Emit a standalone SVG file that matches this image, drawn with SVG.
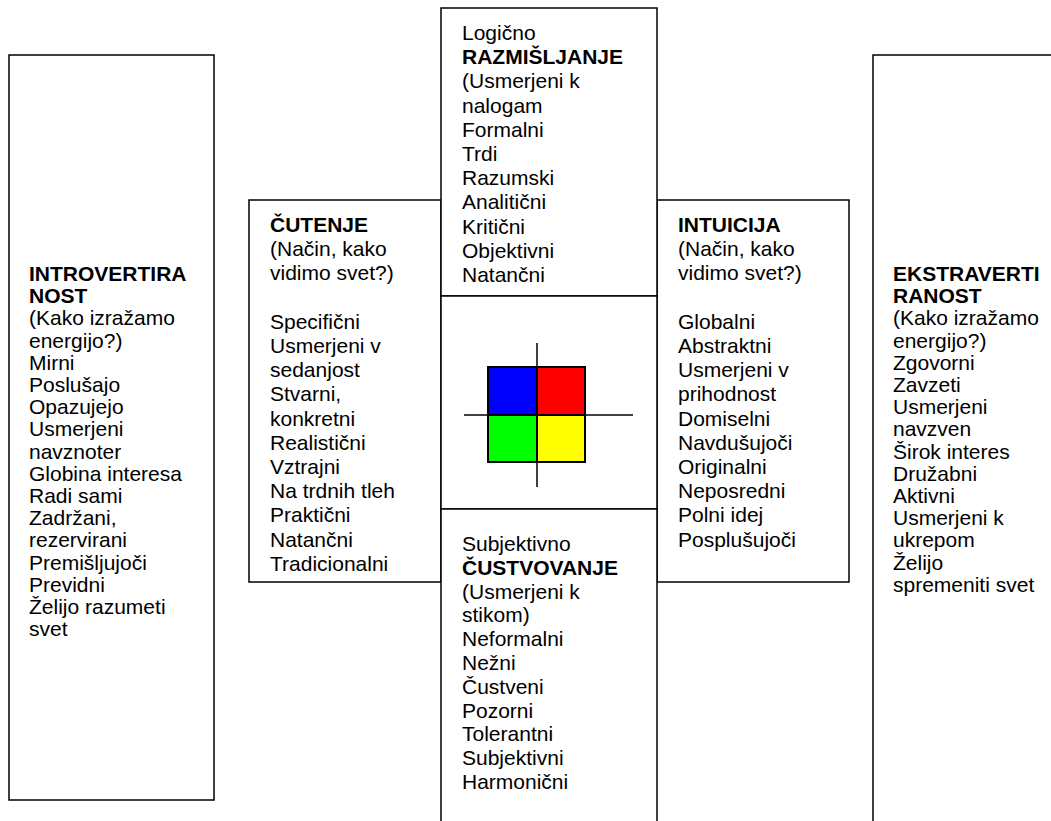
<svg xmlns="http://www.w3.org/2000/svg" width="1051" height="821" viewBox="0 0 1051 821">
  <style>
    .frame { fill: #ffffff; stroke: #000000; stroke-width: 1.5; }
    .edge { fill: none; stroke: #000000; stroke-width: 1.5; }
    .txt { font-family: "Liberation Sans", Arial, sans-serif; font-size: 21px; fill: #000000; }
    .b { font-weight: bold; }
    .cell { stroke: #000000; stroke-width: 2; }
    .axis { stroke: #000000; stroke-width: 1.5; }
  </style>
  <rect width="1051" height="821" fill="#ffffff"/>

  <!-- Introvertiranost -->
  <g id="introvertiranost">
    <rect class="frame" x="9" y="55" width="205" height="745"/>
    <text class="txt" x="29" y="281">
      <tspan x="29" class="b">INTROVERTIRA</tspan>
      <tspan x="29" dy="22.2" class="b">NOST</tspan>
      <tspan x="29" dy="22.2">(Kako izražamo</tspan>
      <tspan x="29" dy="22.2">energijo?)</tspan>
      <tspan x="29" dy="22.2">Mirni</tspan>
      <tspan x="29" dy="22.2">Poslušajo</tspan>
      <tspan x="29" dy="22.2">Opazujejo</tspan>
      <tspan x="29" dy="22.2">Usmerjeni</tspan>
      <tspan x="29" dy="22.2">navznoter</tspan>
      <tspan x="29" dy="22.2">Globina interesa</tspan>
      <tspan x="29" dy="22.2">Radi sami</tspan>
      <tspan x="29" dy="22.2">Zadržani,</tspan>
      <tspan x="29" dy="22.2">rezervirani</tspan>
      <tspan x="29" dy="22.2">Premišljujoči</tspan>
      <tspan x="29" dy="22.2">Previdni</tspan>
      <tspan x="29" dy="22.2">Želijo razumeti</tspan>
      <tspan x="29" dy="22.2">svet</tspan>
    </text>
  </g>

  <!-- Čutenje -->
  <g id="cutenje">
    <rect class="frame" x="249" y="200" width="192" height="382"/>
    <text class="txt" x="270" y="232">
      <tspan x="270" class="b">ČUTENJE</tspan>
      <tspan x="270" dy="24.2">(Način, kako</tspan>
      <tspan x="270" dy="24.2">vidimo svet?)</tspan>
      <tspan x="270" dy="48.4">Specifični</tspan>
      <tspan x="270" dy="24.2">Usmerjeni v</tspan>
      <tspan x="270" dy="24.2">sedanjost</tspan>
      <tspan x="270" dy="24.2">Stvarni,</tspan>
      <tspan x="270" dy="24.2">konkretni</tspan>
      <tspan x="270" dy="24.2">Realistični</tspan>
      <tspan x="270" dy="24.2">Vztrajni</tspan>
      <tspan x="270" dy="24.2">Na trdnih tleh</tspan>
      <tspan x="270" dy="24.2">Praktični</tspan>
      <tspan x="270" dy="24.2">Natančni</tspan>
      <tspan x="270" dy="24.2">Tradicionalni</tspan>
    </text>
  </g>

  <!-- Intuicija -->
  <g id="intuicija">
    <rect class="frame" x="657" y="200" width="192" height="382"/>
    <text class="txt" x="678" y="232">
      <tspan x="678" class="b">INTUICIJA</tspan>
      <tspan x="678" dy="24.2">(Način, kako</tspan>
      <tspan x="678" dy="24.2">vidimo svet?)</tspan>
      <tspan x="678" dy="48.4">Globalni</tspan>
      <tspan x="678" dy="24.2">Abstraktni</tspan>
      <tspan x="678" dy="24.2">Usmerjeni v</tspan>
      <tspan x="678" dy="24.2">prihodnost</tspan>
      <tspan x="678" dy="24.2">Domiselni</tspan>
      <tspan x="678" dy="24.2">Navdušujoči</tspan>
      <tspan x="678" dy="24.2">Originalni</tspan>
      <tspan x="678" dy="24.2">Neposredni</tspan>
      <tspan x="678" dy="24.2">Polni idej</tspan>
      <tspan x="678" dy="24.2">Posplušujoči</tspan>
    </text>
  </g>

  <!-- Razmišljanje (top of the centre column) -->
  <g id="razmisljanje">
    <rect class="frame" x="441" y="8" width="216" height="288"/>
    <text class="txt" x="462" y="40">
      <tspan x="462">Logično</tspan>
      <tspan x="462" dy="24.2" class="b">RAZMIŠLJANJE</tspan>
      <tspan x="462" dy="24.2">(Usmerjeni k</tspan>
      <tspan x="462" dy="24.2">nalogam</tspan>
      <tspan x="462" dy="24.2">Formalni</tspan>
      <tspan x="462" dy="24.2">Trdi</tspan>
      <tspan x="462" dy="24.2">Razumski</tspan>
      <tspan x="462" dy="24.2">Analitični</tspan>
      <tspan x="462" dy="24.2">Kritični</tspan>
      <tspan x="462" dy="24.2">Objektivni</tspan>
      <tspan x="462" dy="24.2">Natančni</tspan>
    </text>
  </g>

  <!-- Colour quadrant symbol (middle of the centre column) -->
  <g id="simbol">
    <rect class="frame" x="441" y="296" width="216" height="213"/>
    <rect class="cell" x="488" y="367" width="49" height="48" fill="#0000ff"/>
    <rect class="cell" x="537" y="367" width="48" height="48" fill="#ff0000"/>
    <rect class="cell" x="488" y="415" width="49" height="47" fill="#00ff00"/>
    <rect class="cell" x="537" y="415" width="48" height="47" fill="#ffff00"/>
    <line class="axis" x1="464" y1="415" x2="633" y2="415"/>
    <line class="axis" x1="537" y1="343" x2="537" y2="487"/>
  </g>

  <!-- Čustvovanje (bottom of the centre column) -->
  <g id="custvovanje">
    <rect class="frame" x="441" y="509" width="216" height="330"/>
    <text class="txt" x="462" y="551">
      <tspan x="462">Subjektivno</tspan>
      <tspan x="462" dy="23.8" class="b">ČUSTVOVANJE</tspan>
      <tspan x="462" dy="23.8">(Usmerjeni k</tspan>
      <tspan x="462" dy="23.8">stikom)</tspan>
      <tspan x="462" dy="23.8">Neformalni</tspan>
      <tspan x="462" dy="23.8">Nežni</tspan>
      <tspan x="462" dy="23.8">Čustveni</tspan>
      <tspan x="462" dy="23.8">Pozorni</tspan>
      <tspan x="462" dy="23.8">Tolerantni</tspan>
      <tspan x="462" dy="23.8">Subjektivni</tspan>
      <tspan x="462" dy="23.8">Harmonični</tspan>
    </text>
  </g>

  <!-- Ekstravertiranost -->
  <g id="ekstravertiranost">
    <rect class="frame" x="873" y="55" width="200" height="790"/>
    <text class="txt" x="893" y="281">
      <tspan x="893" class="b">EKSTRAVERTI</tspan>
      <tspan x="893" dy="22.2" class="b">RANOST</tspan>
      <tspan x="893" dy="22.2">(Kako izražamo</tspan>
      <tspan x="893" dy="22.2">energijo?)</tspan>
      <tspan x="893" dy="22.2">Zgovorni</tspan>
      <tspan x="893" dy="22.2">Zavzeti</tspan>
      <tspan x="893" dy="22.2">Usmerjeni</tspan>
      <tspan x="893" dy="22.2">navzven</tspan>
      <tspan x="893" dy="22.2">Širok interes</tspan>
      <tspan x="893" dy="22.2">Družabni</tspan>
      <tspan x="893" dy="22.2">Aktivni</tspan>
      <tspan x="893" dy="22.2">Usmerjeni k</tspan>
      <tspan x="893" dy="22.2">ukrepom</tspan>
      <tspan x="893" dy="22.2">Želijo</tspan>
      <tspan x="893" dy="22.2">spremeniti svet</tspan>
    </text>
  </g>

  <!-- No connectors between the boxes: the panels share their borders -->
  <g id="connectors"/>
</svg>
